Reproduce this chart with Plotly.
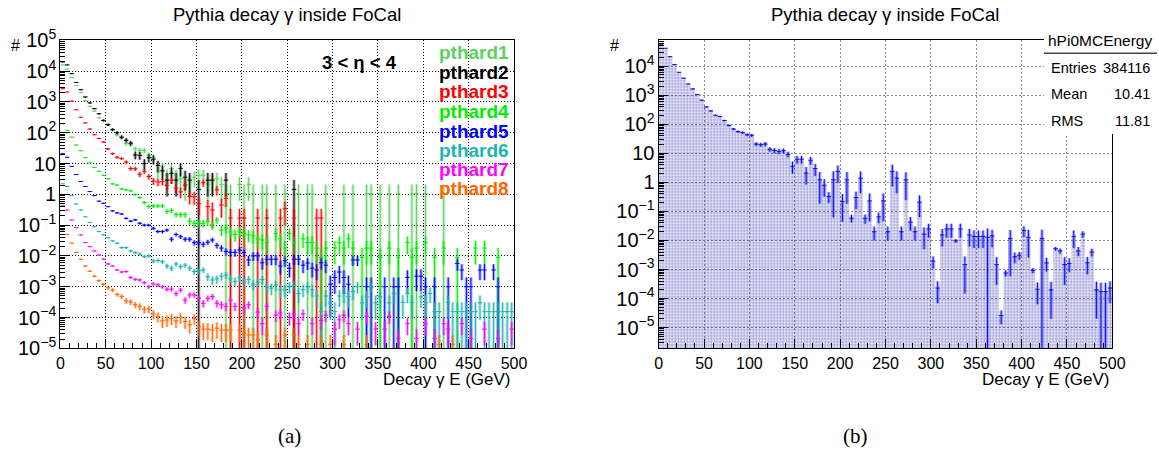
import math
import plotly.graph_objects as go

_ = None

# ---------------- binning (100 bins of 5 GeV from 0 to 500 GeV) ----------------
BIN_WIDTH = 5.0
N_BINS = 100
energy = [BIN_WIDTH * (i + 0.5) for i in range(N_BINS)]

# ---------------- panel (a): decay-photon spectra per pT-hard bin ----------------
pthard1 = [
    16000, 11700, 6200, 3400, 2000, 1100, 720, 510, 310, 250,
    182, 126, 85, 72, 45, 42, 30, 27, 27, 19,
    15.5, 5.4, 7.8, 4.2, 6.9, 4.2, 3.2, 2.1, 2.5, 3.6,
    4.2, 4.2, 2.1, 2.6, 3.2, 2.1, 1.05, 1.05, _, 2.1,
    1.05, 2.1, 1.05, _, 1.05, 1.05, _, 1.05, _, 1.05,
    _, _, 1.05, _, 1.05, 1.05, _, _, 1.05, _,
    _, _, 1.05, _, 1.05, _, _, 1.05, 1.05, _,
    1.05, _, 1.05, _, 1.05, _, _, 1.05, 1.05, _,
    1.05, _, _, _, 1.05, _, _, _, _, _,
    _, _, _, _, _, _, _, _, _, _,
]
pthard2 = [
    20000, 16000, 8300, 4300, 2500, 1450, 930, 610, 415, 252,
    182, 126, 100, 72, 57, 46, 19, 18.5, 10, 15.5,
    13.8, 8.7, 5.8, 2.9, 4.8, 2.9, 7.0, 3.6, 2.9, _,
    1.45, _, 2.9, 2.9, _, _, 2.9, _, _, _,
    _, _, _, _, _, _, _, _, _, _,
    _, 1.45, _, _, _, _, _, _, _, _,
    _, _, _, _, _, _, _, _, _, _,
    _, _, _, _, _, _, _, _, _, _,
    _, _, _, _, _, _, _, _, _, _,
    _, _, _, _, _, _, _, _, _, _,
]
pthard3 = [
    2700, 2100, 1070, 560, 320, 210, 132, 87, 65, 50,
    30, 21, 16, 14.5, 11.2, 6.9, 6.8, 4.5, 5.6, 3.8,
    2.7, 2.5, 2.6, 1.95, 2.9, 1.6, 1.2, 2.0, 0.85, 0.83,
    0.5, 2.4, 0.4, 0.31, 1.4, 0.45, 0.74, 0.17, _, 0.17,
    0.17, _, _, 0.17, _, 0.17, _, _, 0.17, 0.34,
    _, 0.17, _, _, _, _, 0.17, 0.17, _, _,
    _, _, _, _, _, _, _, _, _, _,
    _, _, _, _, _, _, _, _, _, _,
    _, _, _, _, _, _, _, _, _, _,
    _, _, _, _, _, _, _, _, _, _,
]
pthard4 = [
    195, 120, 72, 40, 26, 15.5, 10.5, 7.4, 5.6, 4.2,
    3.2, 2.2, 2.0, 1.5, 1.4, 1.3, 0.98, 0.79, 0.54, 0.40,
    0.42, 0.42, 0.42, 0.28, 0.30, 0.22, 0.22, 0.22, 0.135, 0.115,
    0.115, 0.115, 0.13, 0.1, 0.148, 0.069, 0.08, 0.06, 0.05, 0.063,
    0.054, 0.048, 0.045, 0.036, 0.033, 0.027, _, 0.054, 0.036, 0.018,
    0.054, 0.027, _, 0.036, 0.027, 0.027, 0.018, 0.009, 0.018, _,
    0.018, 0.027, 0.018, 0.036, 0.018, _, 0.009, 0.018, 0.018, _,
    0.009, _, 0.018, _, 0.009, _, 0.027, 0.009, 0.018, _,
    0.027, _, 0.009, _, 0.018, _, _, 0.009, _, _,
    _, 0.018, _, 0.018, _, _, 0.009, _, _, _,
]
pthard5 = [
    21, 16, 8.1, 4.4, 2.6, 1.8, 1.23, 0.91, 0.60, 0.51,
    0.40, 0.29, 0.25, 0.23, 0.166, 0.135, 0.148, 0.115, 0.10, 0.10,
    0.079, 0.062, 0.062, 0.069, 0.035, 0.05, 0.042, 0.035, 0.035, 0.027,
    0.027, 0.024, 0.028, 0.033, 0.022, 0.018, 0.014, 0.013, 0.013, 0.0155,
    0.013, 0.0074, 0.010, 0.010, 0.006, 0.0078, 0.0078, 0.0078, 0.0047, 0.007,
    0.004, 0.0078, 0.0078, 0.005, 0.0059, 0.004, 0.0035, 0.006, 0.005, 0.0012,
    0.002, 0.003, 0.002, 0.0012, 0.0074, 0.0074, _, 0.001, 0.001, _,
    _, 0.001, _, 0.001, 0.001, _, 0.002, _, 0.0022, 0.0022,
    0.001, _, 0.001, _, _, 0.001, _, 0.0057, 0.0035, 0.001,
    0.001, _, 0.0035, 0.0035, _, 0.0035, 0.001, _, _, _,
]
pthard6 = [
    2.2, 1.8, 0.91, 0.49, 0.31, 0.186, 0.123, 0.089, 0.062, 0.049,
    0.039, 0.031, 0.026, 0.0186, 0.0186, 0.0145, 0.0129, 0.0115, 0.0095, 0.010,
    0.0068, 0.0071, 0.0065, 0.0047, 0.004, 0.0055, 0.0045, 0.005, 0.004, 0.0031,
    0.0033, 0.0035, 0.0021, 0.00166, 0.0018, 0.0022, 0.0024, 0.0018, 0.0015, 0.002,
    0.00145, 0.0017, 0.0012, 0.0014, 0.0017, 0.001, 0.0009, 0.00115, 0.0008, 0.0008,
    0.001, 0.0011, 0.0006, 0.0008, 0.001, 0.0008, 0.0005, 0.000155, 0.0005, 0.0003,
    0.000155, 0.0005, 0.0006, 0.00048, 0.0007, 0.001, 0.0003, 0.00047, 0.001, 0.0003,
    0.00047, _, 0.0003, 0.0006, _, 0.00031, 0.0006, 0.00031, _, 0.00047,
    0.00031, 0.0006, 0.000155, 0.000155, _, 0.00031, 0.000155, 0.000155, 0.000155, 0.000155,
    0.000155, 0.000155, 0.0003, 0.000155, 0.000155, 0.000155, 0.000155, 0.000155, 0.000155, 0.000155,
]
pthard7 = [
    0.42, 0.31, 0.148, 0.083, 0.048, 0.027, 0.020, 0.0145, 0.0107, 0.0079,
    0.0055, 0.0047, 0.0035, 0.0030, 0.0031, 0.0020, 0.00174, 0.00166, 0.00135, 0.0010,
    0.00123, 0.00115, 0.0010, 0.00083, 0.00083, 0.0006, 0.00078, 0.00037, 0.00054, 0.00054,
    0.00042, 0.00029, 0.00042, 0.00048, 0.00029, 0.00026, 0.00023, 0.00037, 0.00023, _,
    0.0002, 0.00026, _, 0.00015, 0.000063, 0.00023, _, 0.00012, 0.00014, _,
    0.0001, 0.00013, 0.000063, 0.00013, _, 0.000063, _, 0.00008, 0.00012, _,
    0.000042, 0.000084, 0.00012, 0.000063, _, 0.000042, _, 0.00011, _, 0.000042,
    _, 0.000042, 0.00011, _, 0.000021, _, 0.000063, _, 0.000021, _,
    0.000063, _, 0.000021, _, 0.000063, 0.000042, _, _, 0.000063, _,
    0.000021, _, _, 0.000042, _, _, 0.000021, _, _, 0.000042,
]
pthard8 = [
    0.069, 0.050, 0.026, 0.013, 0.0078, 0.0047, 0.0032, 0.0022, 0.00158, 0.0012,
    0.00093, 0.00078, 0.00056, 0.00048, 0.00035, 0.00032, 0.00026, 0.00023, 0.000186, 0.00019,
    0.000129, 0.000107, 0.000078, 0.000083, 0.000093, 0.000078, 0.0001, 0.000074, 0.000058, 0.000093,
    0.00005, 0.000042, 0.000042, 0.000039, 0.000045, 0.000039, 0.000039, 0.000039, _, 0.000039,
    0.00003, 0.000027, 0.000027, 0.000019, _, 0.000027, _, 0.0000135, _, 0.000027,
    _, 0.000027, 0.0000135, _, 0.0000135, _, _, 0.0000135, _, 0.0000135,
    _, _, 0.0000135, _, _, _, _, 0.0000135, _, _,
    _, _, _, _, _, _, _, _, _, _,
    _, _, _, 0.0000135, _, _, 0.0000135, _, _, _,
    _, _, _, _, _, _, _, _, _, _,
]

series_names = ["pthard1", "pthard2", "pthard3", "pthard4",
                "pthard5", "pthard6", "pthard7", "pthard8"]
series_values = [pthard1, pthard2, pthard3, pthard4,
                 pthard5, pthard6, pthard7, pthard8]
# weight of a single entry in each pT-hard sample (sets the statistical errors)
entry_weight = [1.05, 1.45, 0.17, 0.009, 0.001, 1.55e-4, 2.1e-5, 1.35e-5]
series_colors = ["#5cd25c", "#000000", "#ff0000", "#00ee00",
                 "#0000ff", "#1fb3b3", "#ff00ff", "#ff6600"]

eta_label = "3 &lt; η &lt; 4"

# ---------------- panel (b): merged spectrum ----------------
hPi0MCEnergy = [
    57500, 41700, 21400, 11500, 6200, 3900, 2450, 1660, 1070, 680,
    400, 290, 205, 186, 135, 91, 69, 56, 52, 44,
    42, 21, 20, 21, 13.8, 12.6, 11.7, 12.3, 9.3, 3.6,
    6.3, 6.3, 2.1, 5.8, 3.0, 1.23, 0.8, 0.33, 1.23, 2.4,
    0.22, 1.23, 0.059, 0.3, 1.4, 0.058, 0.23, 0.02, 0.065, 0.23,
    0.02, 2.4, 1.4, 0.02, 1.23, 0.043, 0.02, 0.21, 0.0166, 0.025,
    0.00195, 0.00023, 0.0155, 0.025, 0.025, 0.0098, 0.025, 0.00148, 0.0155, 0.0138,
    0.0138, 0.0138, 0.0129, 0.0145, 0.00148, 0.000026, 0.00076, 0.0117, 0.00275, 0.0031,
    0.022, 0.0129, 0.00093, 0.00021, 0.0117, 0.0017, 0.0002, 0.0052, 0.0044, 0.00148,
    0.00162, 0.0138, 0.0044, 0.0166, 0.0017, 0.004, 0.0002, 0.000174, 0.000174, 0.00023,
]
hPi0MCEnergy_relerr = [
    0.005, 0.006, 0.008, 0.01, 0.013, 0.016, 0.02, 0.025, 0.03, 0.035,
    0.04, 0.05, 0.06, 0.06, 0.07, 0.08, 0.09, 0.1, 0.1, 0.11,
    0.12, 0.15, 0.16, 0.16, 0.18, 0.2, 0.2, 0.2, 0.22, 0.45,
    0.3, 0.3, 0.6, 0.3, 0.45, 0.85, 0.6, 0.4, 0.95, 0.6,
    0.8, 0.85, 0.3, 0.6, 0.7, 0.35, 0.8, 0.5, 0.4, 0.8,
    0.5, 0.7, 0.7, 0.5, 0.8, 0.5, 0.5, 0.7, 0.7, 0.5,
    0.45, 0.7, 0.6, 0.5, 0.5, 0.15, 0.5, 0.9, 0.6, 0.6,
    0.6, 0.6, 1.0, 0.6, 0.8, 0.5, 0.25, 0.95, 0.4, 0.3,
    0.4, 0.8, 0.2, 0.7, 1.0, 0.5, 0.9, 0.15, 0.2, 0.8,
    0.5, 0.6, 0.35, 0.25, 0.6, 0.3, 0.9, 1.0, 1.0, 0.7,
]
stats_name = "hPi0MCEnergy"
stats_rows = [("Entries", "384116"), ("Mean", "10.41"), ("RMS", "11.81")]

titles = ["Pythia decay γ inside FoCal", "Pythia decay γ inside FoCal"]
x_title = "Decay γ E (GeV)"
y_title = "#"
captions = ["(a)", "(b)"]

for arr in series_values + [hPi0MCEnergy, hPi0MCEnergy_relerr]:
    assert len(arr) == N_BINS

# ---------------- page geometry (pixels) ----------------
W, H = 1159, 456
SANS = "Liberation Sans, Arial, Helvetica, sans-serif"
SERIF = "Liberation Serif, Times New Roman, serif"
FLOOR = 1e-8


def px(x):
    return x / W


def py(y):
    return 1 - y / H


def rgba(hex_color, alpha):
    h = hex_color.lstrip("#")
    r, g, b = int(h[0:2], 16), int(h[2:4], 16), int(h[4:6], 16)
    return f"rgba({r},{g},{b},{alpha})"


def points(values, errors):
    xs, ys, es = [], [], []
    for i, v in enumerate(values):
        if v is None:
            continue
        xs.append(energy[i])
        ys.append(v)
        es.append(errors(i, v))
    return xs, ys, es


def add_histogram(fig, xs, ys, es, line_color, box_color, xa, ya, box_width):
    # shaded error boxes
    base = [max(y - e, FLOOR) for y, e in zip(ys, es)]
    size = [y + e - b for y, e, b in zip(ys, es, base)]
    fig.add_trace(go.Bar(
        x=xs, y=size, base=base, width=box_width,
        marker=dict(color=box_color, line=dict(width=0)),
        xaxis=xa, yaxis=ya, hoverinfo="skip"))
    # error crosses
    fig.add_trace(go.Scatter(
        x=xs, y=ys, mode="markers",
        marker=dict(size=1, color=line_color),
        error_x=dict(type="constant", value=BIN_WIDTH / 2, width=0,
                     thickness=1, color=line_color),
        error_y=dict(type="data", array=es, width=0,
                     thickness=1, color=line_color),
        xaxis=xa, yaxis=ya, hoverinfo="skip"))


fig = go.Figure()

# panel (a)
for vals, w, col in zip(series_values, entry_weight, series_colors):
    xs, ys, es = points(vals, lambda i, v, w=w: math.sqrt(v * w))
    add_histogram(fig, xs, ys, es, col, rgba(col, 0.3), "x", "y", 3.6)

# panel (b): dotted fill, then error boxes and crosses
xs_b, ys_b, es_b = points(hPi0MCEnergy, lambda i, v: v * hPi0MCEnergy_relerr[i])
fig.add_trace(go.Bar(
    x=xs_b, y=[v - FLOOR for v in ys_b], base=FLOOR, width=BIN_WIDTH,
    marker=dict(color="rgba(0,0,0,0)", line=dict(width=0),
                pattern=dict(shape=".", fgcolor="#2e2eb0", size=3,
                             solidity=0.5, fillmode="overlay")),
    xaxis="x2", yaxis="y2", hoverinfo="skip"))
add_histogram(fig, xs_b, ys_b, es_b, "#1010e8", "rgba(70,70,255,0.4)", "x2", "y2", 3.8)

# ---------------- axes ----------------
def x_axis(domain, anchor, grid_color, grid_dash):
    return dict(
        domain=domain, anchor=anchor, range=[0, 500], automargin=False,
        tickmode="linear", tick0=0, dtick=50,
        ticks="inside", ticklen=9, tickwidth=1, tickcolor="black",
        minor=dict(dtick=10, ticks="inside", ticklen=5, tickcolor="black",
                   showgrid=False),
        showline=True, mirror=True, linecolor="black", linewidth=1,
        showgrid=True, gridcolor=grid_color, griddash=grid_dash, gridwidth=1,
        zeroline=False, tickfont=dict(family=SANS, size=16, color="black"))


def y_axis(domain, rng, anchor, grid_color, grid_dash):
    return dict(
        domain=domain, type="log", range=rng, anchor=anchor, automargin=False,
        tickmode="linear", tick0=0, dtick=1, exponentformat="power",
        ticks="inside", ticklen=9, tickwidth=1, tickcolor="black",
        minor=dict(dtick="D1", ticks="inside", ticklen=5, tickcolor="black",
                   showgrid=False),
        showline=True, mirror=True, linecolor="black", linewidth=1,
        showgrid=True, gridcolor=grid_color, griddash=grid_dash, gridwidth=1,
        zeroline=False, tickfont=dict(family=SANS, size=16, color="black"))


y_dom = [py(348.3), py(40.4)]
fig.update_layout(
    width=W, height=H, autosize=False,
    margin=dict(l=0, r=0, t=0, b=0, pad=0, autoexpand=False),
    paper_bgcolor="white", plot_bgcolor="white",
    barmode="overlay", showlegend=False,
    font=dict(family=SANS, size=16, color="black"),
    xaxis=x_axis([px(60.4), px(514.0)], "y", "#000000", "1px,2px"),
    yaxis=y_axis(y_dom, [-5, 5], "x", "#000000", "1px,2px"),
    xaxis2=x_axis([px(658.7), px(1112.3)], "y2", "#8a8a8a", "2px,2px"),
    yaxis2=y_axis(y_dom, [-5.714, 4.89], "x2", "#8a8a8a", "2px,2px"),
)

annotations = []


def text(t, x, y, size, color="black", anchor="center", family=SANS):
    annotations.append(dict(
        text=t, x=px(x), y=py(y), xref="paper", yref="paper",
        xanchor=anchor, yanchor="middle", showarrow=False,
        font=dict(family=family, size=size, color=color)))


# titles, axis titles, captions
text(titles[0], 287, 14.5, 18.5)
text(titles[1], 885, 14.5, 18.5)
text(y_title, 15.5, 46, 16)
text(y_title, 614, 45, 16)
text(x_title, 512.5, 379, 17, anchor="right")
text(x_title, 1111.5, 379, 17, anchor="right")
text(captions[0], 289, 436, 21, family=SERIF)
text(captions[1], 855, 436, 21, family=SERIF)

# panel (a) labels
text(f"<b>{eta_label}</b>", 359, 62.5, 18.5)
legend_y = [53, 72.5, 92, 111.5, 131.5, 150.5, 170, 188.5]
for name, col, yy in zip(series_names, series_colors, legend_y):
    text(f"<b>{name}</b>", 510.5, yy, 19, color=col, anchor="right")

# panel (b) statistics box
shapes = [
    dict(type="rect", xref="paper", yref="paper",
         x0=px(1044), x1=px(1159), y0=py(134), y1=py(30),
         fillcolor="white", line=dict(width=0), layer="above"),
    dict(type="line", xref="paper", yref="paper",
         x0=px(1044), x1=px(1157), y0=py(53.3), y1=py(53.3),
         line=dict(color="#444444", width=1.5), layer="above"),
]
text(stats_name, 1100, 40.5, 15.5)
for (label, value), yy in zip(stats_rows, [68.3, 94.3, 120.7]):
    text(label, 1049, yy, 14.5, anchor="left")
    text(value, 1152, yy, 14.5, anchor="right")

fig.update_layout(annotations=annotations, shapes=shapes)

# page without body margin so the figure fills the window exactly
page_css = ("document.documentElement.style.margin='0';"
            "document.documentElement.style.overflow='hidden';"
            "document.body.style.margin='0';"
            "document.body.style.overflow='hidden';")
fig.write_html("out.html", post_script=page_css)
